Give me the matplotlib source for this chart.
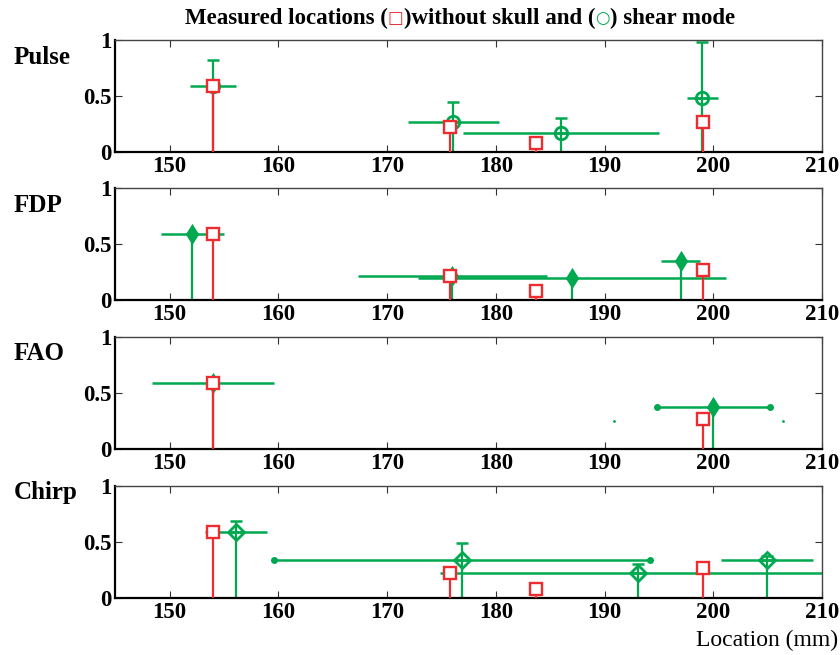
import matplotlib
matplotlib.use("Agg")
import matplotlib.pyplot as plt

plt.rcParams['font.family'] = ['Liberation Serif', 'DejaVu Sans']

# measured locations without skull (red squares)
red_x = [154.0, 175.8, 183.7, 199.1]
red_y = [0.59, 0.22, 0.08, 0.27]

# shear mode (green) per excitation
pulse_x = [154.0, 176.1, 186.0, 199.0]
pulse_y = [0.59, 0.27, 0.17, 0.48]
pulse_xerr = [2.1, 4.2, 9.0, 1.45]
pulse_yerr = [0.23, 0.18, 0.13, 0.50]

fdp_x = [152.1, 176.0, 187.0, 197.0]
fdp_y = [0.59, 0.215, 0.198, 0.355]
fdp_xerr = [2.9, 8.7, 14.2, 1.8]
fdp_yerr = [0.0, 0.0, 0.0, 0.0]

fao_x = [154.0, 200.0]
fao_y = [0.59, 0.375]
fao_xerr = [5.6, 5.2]
fao_yerr = [0.0, 0.0]
fao_red_idx = [0, 3]
fao_speck_x = [190.9, 206.4]
fao_speck_y = [0.25, 0.25]

chirp_x = [156.1, 176.9, 193.05, 204.95]
chirp_y = [0.59, 0.34, 0.22, 0.335]
chirp_xerr = [2.85, 17.3, 18.2, 4.2]
chirp_yerr = [0.10, 0.15, 0.08, 0.04]

names = ["Pulse", "FDP", "FAO", "Chirp"]
xticks = [150, 160, 170, 180, 190, 200, 210]

green = '#00a84f'
red = '#ee2b2e'

panels = [
    (pulse_x, pulse_y, pulse_xerr, pulse_yerr, [0, 1, 2, 3], []),
    (fdp_x, fdp_y, fdp_xerr, fdp_yerr, [0, 1, 2, 3], []),
    (fao_x, fao_y, fao_xerr, fao_yerr, fao_red_idx, [1]),
    (chirp_x, chirp_y, chirp_xerr, chirp_yerr, [0, 1, 2, 3], [1]),
]
markers = [('o', 'none'), ('d', green), ('d', green), ('D', 'none')]
tops = [40, 188.3, 337, 486]
label_y = [57, 205, 353, 492]

W, H = 840, 655
fig = plt.figure(figsize=(8.4, 6.55), dpi=100)
tick_font = dict(family=['Liberation Serif'], weight='bold', size=16.5)

for k, (gx, gy, gxe, gye, ridx, dots) in enumerate(panels):
    top = tops[k]
    ax = fig.add_axes([115.3 / W, 1 - (top + 112) / H, 706.7 / W, 112 / H])
    ax.set_xlim(145, 210)
    ax.set_ylim(0, 1)

    # green stems and error bars
    ax.vlines(gx, 0, gy, color=green, lw=1.6, zorder=2)
    ax.errorbar(gx, gy, xerr=gxe, fmt='none', ecolor=green, elinewidth=1.8,
                capsize=0, zorder=2)
    ax.errorbar(gx, gy, yerr=[[0] * len(gy), gye], fmt='none', ecolor=green,
                elinewidth=1.6, capsize=4, capthick=1.8, zorder=2)
    m, fc = markers[k]
    ax.plot(gx, gy, linestyle='none', marker=m, ms=9 if m == 'o' else 8,
            mfc=fc, mec=green, mew=2, zorder=3)
    for i in dots:
        ax.plot([gx[i] - gxe[i], gx[i] + gxe[i]], [gy[i], gy[i]], 'o',
                color=green, ms=4, zorder=3)
    if k == 2:
        ax.plot(fao_speck_x, fao_speck_y, '.', color=green, ms=2)

    # red stems and squares
    rx = [red_x[i] for i in ridx]
    ry = [red_y[i] for i in ridx]
    ax.vlines(rx, 0, ry, color=red, lw=1.6, zorder=4)
    ax.plot(rx, ry, 's', ms=8.5, mfc='white', mec=red, mew=1.7, zorder=5)

    ax.set_xticks(xticks)
    ax.set_yticks([0, 0.5, 1])
    ax.set_yticklabels(['0', '0.5', '1'])
    ax.tick_params(direction='in', length=5, width=0.8, top=True, right=True,
                   colors='#333333', labelcolor='black', pad=3)
    for lab in ax.get_xticklabels() + ax.get_yticklabels():
        lab.set(**tick_font)
    for s in ['left', 'bottom']:
        ax.spines[s].set_linewidth(1.6)
    for s in ['top', 'right']:
        ax.spines[s].set_linewidth(1.0)
        ax.spines[s].set_color('#444444')

    fig.text(14 / W, 1 - label_y[k] / H, names[k], ha='left', va='center',
             fontsize=18, fontweight='bold', family=['Liberation Serif'])

fig.text(838 / W, 1 - 640 / H, "Location (mm)", ha='right', va='center',
         fontsize=17, family=['Liberation Serif'])

# title with coloured symbols
tf = dict(fontsize=16.5, fontweight='bold', family=['Liberation Serif', 'DejaVu Sans'])
t = fig.text(185 / W, 1 - 18 / H, "Measured locations (", ha='left',
             va='center', **tf)
pieces = [("\u25a1", red), (")without skull and (", 'black'),
          ("\u25cb", green), (") shear mode", 'black')]
for s, c in pieces:
    kw = dict(tf)
    if c != 'black':
        kw = dict(fontsize=12, fontweight='normal', family=['DejaVu Sans'])
    t = plt.annotate(s, xy=(1, 0.5), xycoords=t, ha='left', va='center',
                     color=c, annotation_clip=False, **kw)

fig.savefig("out.png", dpi=100)
